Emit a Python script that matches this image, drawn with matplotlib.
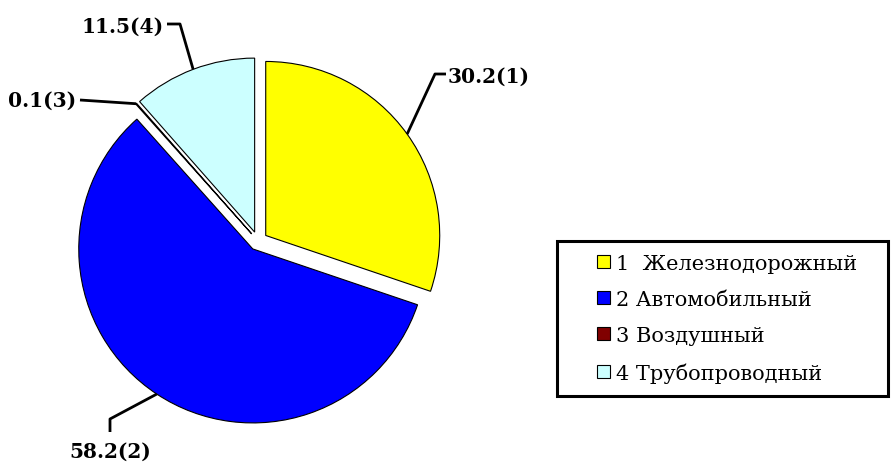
import numpy as np
import matplotlib
matplotlib.use("Agg")
import matplotlib.pyplot as plt
from matplotlib.patches import Rectangle

# ---------------- DATA ----------------
categories = ["1  Железнодорожный", "2 Автомобильный", "3 Воздушный", "4 Трубопроводный"]
shares = [30.2, 58.2, 0.1, 11.5]
slice_labels = ["30.2(1)", "58.2(2)", "0.1(3)", "11.5(4)"]
colors = ["#FFFF00", "#0000FF", "#800000", "#CCFFFF"]

W, H = 896, 464
FONT = "DejaVu Serif"

def Y(y):
    # pixel row (from top) -> axes y
    return H - y

fig = plt.figure(figsize=(W / 100, H / 100), dpi=100)
ax = fig.add_axes([0, 0, 1, 1])

R = 174
wedges, _ = ax.pie(
    shares,
    colors=colors,
    startangle=90,
    counterclock=False,
    radius=R,
    center=(258, Y(242)),
    explode=[9.5] * 4,   # pie explode is in data units (pixels here)
    wedgeprops=dict(edgecolor="black", linewidth=0.8),
    frame=True,
)
ax.set_xlim(0, W)
ax.set_ylim(0, H)
ax.set_aspect("equal")
ax.axis("off")

# leader lines: (elbow, end) points and text anchor (pixels from top-left)
leaders = [
    ((435, 75), (446, 75), (448, 77), "left", "center"),
    ((110, 420), (110, 433), (110, 452), "center", "center"),
    ((80, 101), (80, 101), (76, 101), "right", "center"),
    ((180, 25), (167, 25), (164, 27), "right", "center"),
]

for w, lab, (elb, end, tpos, ha, va) in zip(wedges, slice_labels, leaders):
    mid = np.deg2rad((w.theta1 + w.theta2) / 2)
    cx, cy = w.center
    ax_x = cx + w.r * np.cos(mid)
    ax_y = cy + w.r * np.sin(mid)
    ax.plot([ax_x, elb[0], end[0]], [ax_y, Y(elb[1]), Y(end[1])],
            color="black", linewidth=2, solid_capstyle="butt")
    ax.text(tpos[0], Y(tpos[1]), lab, ha=ha, va=va, fontsize=14.5,
            fontweight="bold", family=FONT)

# legend box
ax.add_patch(Rectangle((557, Y(397)), 888 - 557, 397 - 242, facecolor="white",
                       edgecolor="black", linewidth=2.2, zorder=1))
leg = ax.legend(wedges, categories, loc="upper left",
                bbox_to_anchor=(597 / W, 1 - 255 / H), bbox_transform=fig.transFigure,
                frameon=False, handlelength=0.6, handleheight=0.6,
                handletextpad=0.3, labelspacing=0.82, borderaxespad=0,
                borderpad=0, prop=dict(family=FONT, size=15))
leg.set_zorder(5)

fig.savefig("out.png", dpi=100)
